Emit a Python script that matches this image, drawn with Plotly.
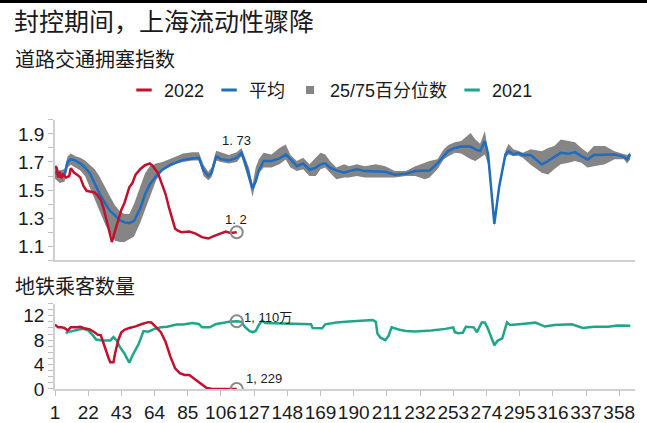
import plotly.graph_objects as go

# ---- colours -------------------------------------------------------------
RED = "#C0112D"
BLUE = "#1E6DC0"
GREEN = "#1FA588"
GRAY = "#858585"
AXIS = "#D0D0D0"
TXT = "#1A1A1A"

# ---- 道路交通拥塞指数 (day of year) -----------------------------------------
avg_day = [1, 4, 7, 9, 11, 14, 17, 20, 23, 26, 29, 33, 36, 39, 42, 45, 48, 51, 55, 58,
           61, 65, 69, 74, 78, 82, 88, 92, 95, 98, 100, 103, 106, 111, 116, 119, 122, 124,
           126, 128, 130, 133, 138, 143, 147, 150, 154, 158, 162, 166, 169, 172, 175, 179,
           184, 187, 192, 197, 204, 210, 216, 223, 229, 235, 238, 243, 247, 250, 254, 258,
           264, 267, 270, 273, 275, 277, 279, 282, 286, 288, 291, 294, 297, 302, 309, 313,
           317, 321, 326, 330, 334, 338, 342, 349, 355, 361, 363, 365]
avg_val = [1.63, 1.60, 1.61, 1.70, 1.72, 1.71, 1.69, 1.66, 1.62, 1.55, 1.48, 1.40, 1.35, 1.32,
           1.285, 1.27, 1.265, 1.28, 1.37, 1.47, 1.54, 1.60, 1.645, 1.68, 1.70, 1.715, 1.725,
           1.73, 1.64, 1.60, 1.62, 1.74, 1.72, 1.71, 1.73, 1.765, 1.67, 1.59, 1.51, 1.56, 1.64,
           1.707, 1.707, 1.725, 1.754, 1.72, 1.67, 1.69, 1.645, 1.66, 1.683, 1.69, 1.66, 1.64,
           1.624, 1.635, 1.648, 1.635, 1.63, 1.63, 1.61, 1.617, 1.635, 1.635, 1.64, 1.69,
           1.745, 1.78, 1.80, 1.81, 1.81, 1.79, 1.777, 1.848, 1.76, 1.52, 1.26, 1.52, 1.754,
           1.777, 1.754, 1.765, 1.75, 1.75, 1.683, 1.707, 1.735, 1.765, 1.758, 1.77, 1.742,
           1.718, 1.75, 1.754, 1.754, 1.737, 1.718, 1.754]
p75_val = [1.66, 1.64, 1.65, 1.74, 1.76, 1.74, 1.73, 1.71, 1.68, 1.65, 1.60, 1.51, 1.45, 1.39,
           1.35, 1.33, 1.33, 1.40, 1.53, 1.62, 1.67, 1.69, 1.70, 1.72, 1.74, 1.76, 1.77, 1.77,
           1.68, 1.63, 1.66, 1.78, 1.77, 1.75, 1.77, 1.80, 1.71, 1.65, 1.54, 1.66, 1.72, 1.765,
           1.754, 1.80, 1.825, 1.75, 1.707, 1.73, 1.683, 1.73, 1.765, 1.754, 1.707, 1.66,
           1.683, 1.67, 1.683, 1.67, 1.683, 1.67, 1.636, 1.636, 1.67, 1.695, 1.707, 1.72,
           1.79, 1.82, 1.84, 1.85, 1.907, 1.86, 1.83, 1.92, 1.78, 1.54, 1.28, 1.54, 1.78, 1.83,
           1.79, 1.78, 1.765, 1.79, 1.777, 1.80, 1.813, 1.86, 1.85, 1.84, 1.80, 1.765, 1.813,
           1.813, 1.777, 1.754, 1.75, 1.77]
p25_val = [1.58, 1.55, 1.56, 1.66, 1.68, 1.66, 1.64, 1.60, 1.52, 1.43, 1.35, 1.25, 1.19, 1.14,
           1.13, 1.13, 1.15, 1.17, 1.27, 1.36, 1.45, 1.57, 1.64, 1.67, 1.69, 1.70, 1.71, 1.71,
           1.60, 1.57, 1.59, 1.71, 1.70, 1.69, 1.70, 1.74, 1.63, 1.55, 1.45, 1.56, 1.62, 1.66,
           1.66, 1.683, 1.718, 1.66, 1.636, 1.648, 1.60, 1.60, 1.648, 1.66, 1.624, 1.577,
           1.59, 1.59, 1.60, 1.59, 1.59, 1.59, 1.59, 1.60, 1.60, 1.577, 1.59, 1.648, 1.72,
           1.74, 1.765, 1.76, 1.72, 1.707, 1.73, 1.754, 1.683, 1.50, 1.24, 1.49, 1.73, 1.754,
           1.742, 1.745, 1.73, 1.68, 1.624, 1.61, 1.65, 1.683, 1.695, 1.707, 1.695, 1.66,
           1.67, 1.683, 1.72, 1.72, 1.69, 1.72]

road22_day = [1, 2, 3, 4, 5, 6, 8, 10, 11, 13, 15, 17, 19, 21, 23, 26, 28, 30, 32, 34, 36, 37,
              39, 41, 43, 45, 48, 50, 52, 55, 58, 61, 63, 66, 69, 71, 73, 75, 77, 79, 81, 86,
              90, 94, 98, 101, 105, 109, 112, 116]
road22_val = [1.67, 1.66, 1.59, 1.63, 1.585, 1.61, 1.59, 1.60, 1.655, 1.625, 1.61, 1.59, 1.53,
              1.495, 1.49, 1.483, 1.462, 1.43, 1.36, 1.26, 1.17, 1.13, 1.21, 1.29, 1.36, 1.41,
              1.52, 1.55, 1.61, 1.65, 1.677, 1.69, 1.67, 1.624, 1.53, 1.47, 1.38, 1.30, 1.225,
              1.21, 1.20, 1.205, 1.19, 1.165, 1.155, 1.17, 1.19, 1.205, 1.195, 1.20]

# ---- 地铁乘客数量 (百万人次) ----------------------------------------------
metro22_day = [1, 3, 5, 7, 9, 11, 15, 17, 19, 23, 26, 28, 30, 31, 33, 35, 36, 38, 39, 41, 43,
               45, 48, 52, 56, 60, 62, 65, 68, 71, 74, 77, 80, 83, 86, 90, 94, 97, 100, 105,
               110, 116]
metro22_val = [10.55, 10.1, 10.1, 10.0, 9.6, 10.1, 10.1, 10.2, 10.0, 9.75, 9.3, 8.9, 8.8, 8.0,
               6.4, 5.0, 4.4, 4.4, 5.8, 8.0, 9.3, 9.7, 10.0, 10.25, 10.65, 10.95, 10.9, 10.1,
               9.3, 7.7, 5.3, 3.4, 2.6, 2.3, 2.3, 1.5, 0.7, 0.16, 0.05, 0.0, 0.0, 0.001229]

metro21_day = [8, 9, 11, 15, 19, 22, 25, 27, 31, 36, 38, 40, 42, 45, 48, 50, 54, 57, 60, 64,
               68, 72, 78, 82, 88, 92, 94, 99, 101, 103, 107, 111, 116, 119, 121, 124, 126,
               128, 130, 132, 134, 143, 149, 155, 163, 164, 167, 170, 172, 179, 187, 195, 202,
               204, 205, 207, 210, 212, 214, 219, 223, 229, 239, 248, 253, 254, 256, 259, 261,
               266, 268, 271, 273, 275, 279, 281, 284, 287, 289, 298, 305, 311, 317, 328, 335,
               342, 351, 357, 363, 365]
metro21_val = [9.05, 9.4, 9.4, 9.7, 9.85, 9.6, 8.8, 8.1, 7.95, 7.95, 8.5, 7.95, 6.9, 5.8, 4.3,
               5.5, 7.4, 9.5, 9.4, 9.85, 10.1, 10.2, 10.55, 10.55, 10.8, 10.66, 10.1, 10.1,
               10.4, 10.66, 10.8, 11.0, 11.10, 11.0, 10.2, 9.5, 9.3, 9.5, 10.5, 11.2, 10.8,
               10.77, 10.7, 10.7, 10.6, 10.0, 10.0, 9.96, 10.6, 10.9, 11.04, 11.2, 11.3, 11.0,
               9.1, 8.4, 8.0, 8.7, 10.1, 9.7, 9.5, 9.42, 9.58, 9.85, 10.1, 9.3, 9.15, 9.2, 10.2,
               10.1, 9.3, 10.9, 10.9, 9.85, 7.16, 7.9, 8.3, 10.9, 10.5, 10.7, 10.87, 10.23,
               10.5, 10.6, 10.0, 10.2, 10.2, 10.4, 10.3, 10.35]

# ---- axis ticks -------------------------------------------------------------
x_ticks = list(range(1, 366, 21))
road_ticks = [round(1.0 + 0.1 * i, 1) for i in range(11)]
road_labels = ["1.1", "1.3", "1.5", "1.7", "1.9"]
metro_ticks = list(range(0, 15))
metro_labels = ["0", "4", "8", "12"]

# ---- figure geometry (pixels) -------------------------------------------------
W, H = 647, 423
ML, MR, MT, MB = 55, 12, 0, 27
PH = H - MT - MB
PW = W - ML - MR


def py(pix):
    """pixel row (from top) -> paper y"""
    return (H - MB - pix) / PH


def px(pix):
    return (pix - ML) / PW


fig = go.Figure()

# percentile band
fig.add_trace(go.Scatter(x=avg_day, y=p25_val, mode="lines", line=dict(width=0, color=GRAY),
                         showlegend=False, hoverinfo="skip", xaxis="x", yaxis="y"))
fig.add_trace(go.Scatter(x=avg_day, y=p75_val, mode="lines", line=dict(width=0, color=GRAY),
                         fill="tonexty", fillcolor=GRAY, showlegend=False, xaxis="x", yaxis="y"))
# average
fig.add_trace(go.Scatter(x=avg_day, y=avg_val, mode="lines", line=dict(color=BLUE, width=2.5),
                         showlegend=False, xaxis="x", yaxis="y"))
# 2022 road
fig.add_trace(go.Scatter(x=road22_day, y=road22_val, mode="lines",
                         line=dict(color=RED, width=2.5), showlegend=False, xaxis="x", yaxis="y"))

# metro 2021 / 2022
fig.add_trace(go.Scatter(x=metro21_day, y=metro21_val, mode="lines",
                         line=dict(color=GREEN, width=2.5), showlegend=False,
                         xaxis="x2", yaxis="y2"))
fig.add_trace(go.Scatter(x=metro22_day, y=metro22_val, mode="lines",
                         line=dict(color=RED, width=2.5), showlegend=False,
                         xaxis="x2", yaxis="y2"))

# highlighted end points (hollow circles)
ring = dict(symbol="circle-open", size=12, color="#8A8A8A", line=dict(width=2, color="#8A8A8A"))
fig.add_trace(go.Scatter(x=[road22_day[-1]], y=[road22_val[-1]], mode="markers", marker=ring,
                         showlegend=False, xaxis="x", yaxis="y"))
end21 = metro21_day.index(metro22_day[-1])
fig.add_trace(go.Scatter(x=[metro21_day[end21], metro22_day[-1]],
                         y=[metro21_val[end21], metro22_val[-1]], mode="markers", marker=ring,
                         showlegend=False, xaxis="x2", yaxis="y2"))

# legend keys
def key(name, color, symbol, size):
    if symbol == "line-ew":
        m = dict(symbol=symbol, size=size, line=dict(color=color, width=3))
    else:
        m = dict(symbol=symbol, size=size, color=color, line=dict(width=0))
    return go.Scatter(x=[None], y=[None], mode="markers", marker=m, name=name,
                      xaxis="x", yaxis="y")


fig.add_trace(key("2022", RED, "line-ew", 11))
fig.add_trace(key("平均", BLUE, "line-ew", 11))
fig.add_trace(key("25/75百分位数", GRAY, "square", 8))
fig.add_trace(key("2021", GREEN, "line-ew", 11))


def fmt_idx(v):
    return f"{v:.2f}".rstrip("0").replace(".", ". ")


avg_end = avg_val[avg_day.index(road22_day[-1])]
lab_font = dict(family="Liberation Sans, Noto Sans CJK SC", size=13, color=TXT)
annotations = [
    dict(x=road22_day[-1], y=avg_end, xref="x", yref="y", text=fmt_idx(avg_end),
         showarrow=False, yshift=17, xshift=0, font=lab_font),
    dict(x=road22_day[-1], y=road22_val[-1], xref="x", yref="y", text=fmt_idx(road22_val[-1]),
         showarrow=False, yshift=13, xshift=-1, font=lab_font),
    dict(x=metro21_day[end21], y=metro21_val[end21], xref="x2", yref="y2",
         text=f"{round(metro21_val[end21] * 100):,}万".replace(",", ", "),
         showarrow=False, xanchor="left", xshift=5, yshift=4, font=lab_font),
    dict(x=metro22_day[-1], y=metro22_val[-1], xref="x2", yref="y2",
         text=f"{round(metro22_val[-1] * 1e6):,}".replace(",", ", "),
         showarrow=False, xanchor="left", xshift=7, yshift=10, font=lab_font),
    dict(x=px(12), y=py(20), xref="paper", yref="paper", text="封控期间，上海流动性骤降",
         showarrow=False, xanchor="left", yanchor="middle",
         font=dict(family="Noto Sans CJK SC", size=25, color=TXT)),
    dict(x=px(13), y=py(60), xref="paper", yref="paper", text="道路交通拥塞指数",
         showarrow=False, xanchor="left", yanchor="middle",
         font=dict(family="Noto Sans CJK SC", size=20, color=TXT)),
    dict(x=px(13), y=py(291), xref="paper", yref="paper", text="地铁乘客数量",
         showarrow=False, xanchor="left", yanchor="middle",
         font=dict(family="Noto Sans CJK SC", size=20, color=TXT)),
]

tick_font = dict(family="Liberation Sans, Arial", size=19, color=TXT)

fig.update_layout(
    width=W, height=H,
    margin=dict(l=ML, r=MR, t=MT, b=MB),
    paper_bgcolor="white", plot_bgcolor="white",
    showlegend=True,
    legend=dict(orientation="h", x=px(331), xanchor="center", y=py(92), yanchor="middle",
                traceorder="normal",
                font=dict(family="Liberation Sans, Noto Sans CJK SC", size=18, color=TXT),
                itemwidth=30, bgcolor="rgba(0,0,0,0)"),
    xaxis=dict(domain=[0, 1], anchor="y", range=[1, 368], showticklabels=False, ticks="",
               showline=True, linecolor=AXIS, linewidth=1.5, showgrid=False, zeroline=False),
    yaxis=dict(domain=[py(265), py(122)], anchor="x", range=[1.0, 2.0],
               tickvals=road_ticks,
               ticktext=[f"{v:.1f}" if f"{v:.1f}" in road_labels else "" for v in road_ticks],
               ticks="outside", ticklen=5, tickcolor="#BFBFBF", showline=True,
               linecolor=AXIS, linewidth=1.5, showgrid=False, zeroline=False,
               tickfont=tick_font),
    xaxis2=dict(domain=[0, 1], anchor="y2", range=[1, 368], matches="x",
                tickvals=x_ticks, ticktext=[str(t) for t in x_ticks], tickangle=0,
                ticks="outside", ticklen=5, tickcolor="#BFBFBF", showline=True,
                linecolor=AXIS, linewidth=1.5, showgrid=False, zeroline=False,
                tickfont=tick_font),
    yaxis2=dict(domain=[0, py(309)], anchor="x2", range=[0, 14],
                tickvals=metro_ticks,
                ticktext=[str(v) if str(v) in metro_labels else "" for v in metro_ticks],
                ticks="outside", ticklen=5, tickcolor="#BFBFBF", showline=True,
                linecolor=AXIS, linewidth=1.5, showgrid=False, zeroline=False,
                tickfont=tick_font),
    annotations=annotations,
    shapes=[dict(type="rect", xref="paper", yref="paper", x0=px(0), x1=px(W),
                 y0=py(3), y1=py(0), fillcolor="black", line=dict(width=0))],
)

fig.write_html("out.html")
